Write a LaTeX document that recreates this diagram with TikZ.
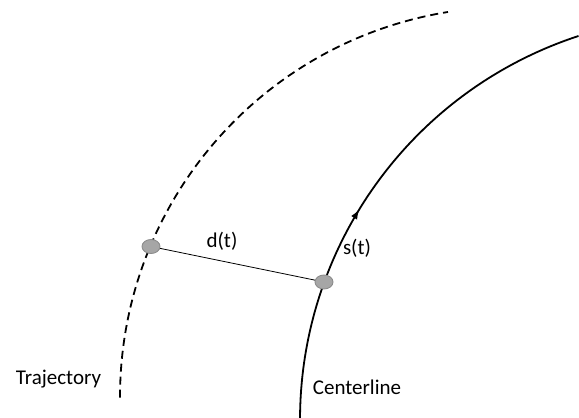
\documentclass[tikz,border=0pt]{standalone}
\usepackage{fontspec}
\setmainfont{Carlito}
\usetikzlibrary{shapes.geometric,arrows.meta,decorations.markings}
\definecolor{dotfill}{HTML}{A6A6A6}
\definecolor{dotline}{HTML}{8C8C8C}
\begin{document}
\begin{tikzpicture}[x=1pt,y=1pt,
  dotnode/.style={ellipse,draw=dotline,fill=dotfill,line width=0.9pt,minimum width=18pt,minimum height=14pt,inner sep=0pt},
  lab/.style={font=\fontsize{21}{25}\selectfont,inner sep=0pt},
  curve/.style={line width=1.8pt},
  trajline/.style={line width=1.8pt,dash pattern=on 8pt off 5pt},
  linkline/.style={line width=0.8pt}]
\useasboundingbox (0,0) rectangle (579,418);
% trajectory (dashed)
\draw[trajline] (510,21) ++(180.1:390) arc[start angle=180.1,end angle=99.15,radius=390];
% centerline with arrow
\draw[curve,postaction={decorate},decoration={markings,mark=at position 0.435 with {\arrow{Latex[length=10pt,width=7pt]}}}]
  (704,-2) ++(179.7:404) arc[start angle=179.7,end angle=108.1,radius=404];
% points
\node[dotnode] (p) at (151,171.5) {};
\node[dotnode] (q) at (324,136) {};
\draw[linkline] (p) -- (q);
% labels
\node[lab] (dl) at (222,177) {d(t)};
\node[lab] (sl) at (357,170) {s(t)};
\node[lab] (tl) at (58.5,39) {Trajectory};
\node[lab] (cl) at (357,31) {Centerline};
\end{tikzpicture}
\end{document}
